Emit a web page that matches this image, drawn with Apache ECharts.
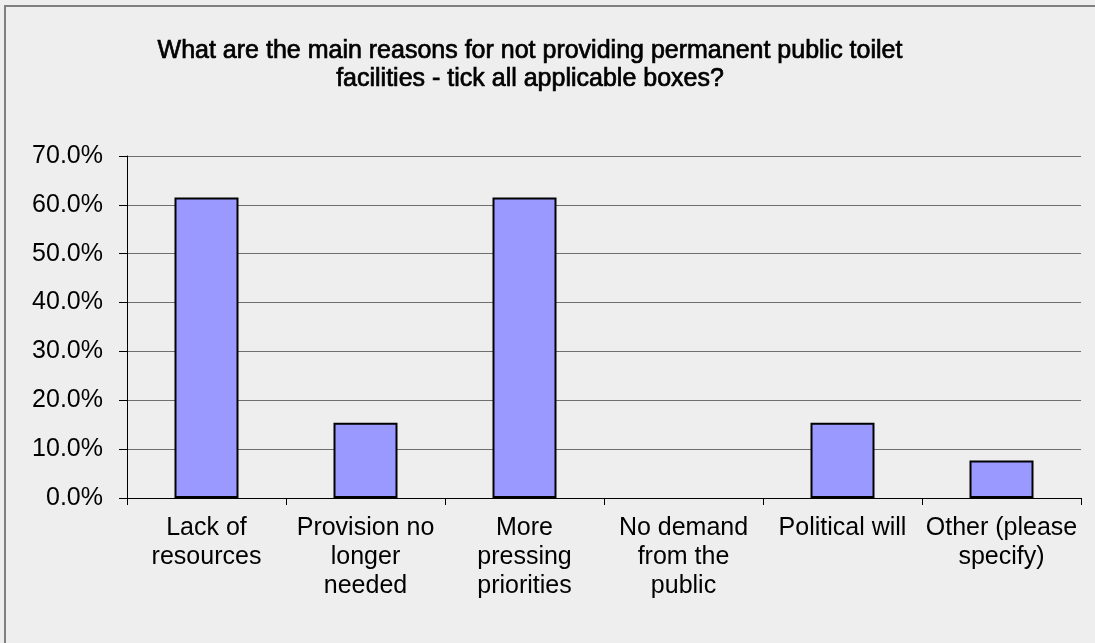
<!DOCTYPE html>
<html><head><meta charset="utf-8">
<script src="https://cdn.jsdelivr.net/npm/echarts@6/dist/echarts.min.js"></script>
<style>html,body{margin:0;padding:0;background:#eeeeee}#c{width:1095px;height:643px}</style>
</head><body><div id="c"></div>
<script>
const titleText = 'What are the main reasons for not providing permanent public toilet\nfacilities - tick all applicable boxes?';
const categories = ['Lack of\nresources', 'Provision no\nlonger\nneeded', 'More\npressing\npriorities', 'No demand\nfrom the\npublic', 'Political will', 'Other (please\nspecify)'];
const values = [61.5, 15.4, 61.5, 0, 15.4, 7.7];
const yTicks = {min: 0, max: 70, interval: 10};

const chart = echarts.init(document.getElementById('c'));
chart.setOption({
  backgroundColor: '#eeeeee',
  animation: false,
  title: {
    text: titleText, left: 525, top: 32, textAlign: 'center',
    textStyle: {fontFamily: 'Liberation Sans, Arial', fontSize: 25, fontWeight: 'normal', color: '#000', lineHeight: 28,
      textBorderColor: '#000', textBorderWidth: 0.7}
  },
  graphic: [{type: 'rect', shape: {x: 5, y: 6, width: 1200, height: 800}, style: {fill: 'none', stroke: '#808080', lineWidth: 2}, silent: true}],
  grid: {left: 127, top: 156, right: 14, bottom: 145, containLabel: false},
  xAxis: {
    type: 'category', data: categories,
    axisLine: {lineStyle: {color: '#000', width: 1}},
    axisTick: {show: true, length: 7, alignWithLabel: false, lineStyle: {color: '#000'}},
    axisLabel: {interval: 0, margin: 16, fontFamily: 'Liberation Sans, Arial', fontSize: 25, color: '#000', lineHeight: 29}
  },
  yAxis: {
    type: 'value', min: yTicks.min, max: yTicks.max, interval: yTicks.interval,
    axisLine: {show: true, lineStyle: {color: '#000', width: 1}},
    axisTick: {show: true, length: 8, lineStyle: {color: '#000'}},
    axisLabel: {margin: 24, fontFamily: 'Liberation Sans, Arial', fontSize: 25, color: '#000', formatter: v => v.toFixed(1) + '%'},
    splitLine: {show: true, lineStyle: {color: '#6e6e6e', width: 1}}
  },
  series: [{
    type: 'bar', barWidth: 64,
    data: values.map(v => v === 0 ? {value: v, itemStyle: {borderWidth: 0}} : v),
    itemStyle: {color: '#9999ff', borderColor: '#000', borderWidth: 2}
  }]
});
</script></body></html>
